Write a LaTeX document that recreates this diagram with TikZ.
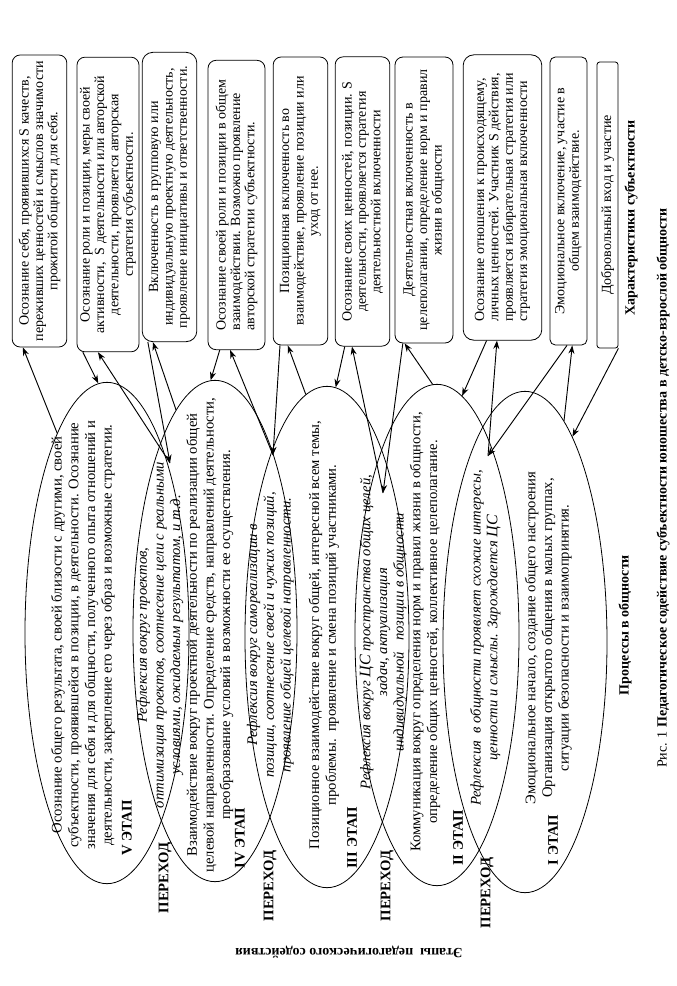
\documentclass[tikz,border=0pt]{standalone}
\usepackage{fontspec}
\setmainfont{Liberation Serif}
\usepackage{tikz}
\usetikzlibrary{arrows.meta,shapes.geometric,calc}

\begin{document}
\begin{tikzpicture}[x=0.75pt, y=-0.75pt,
  stage/.style={draw, line width=0.6pt, ellipse, minimum width=123pt, minimum height=376pt, inner sep=0pt},
  charbox/.style={draw, line width=0.6pt, rounded corners=6pt, rotate=90, align=center, inner sep=1pt,
    minimum width=217pt, font=\fontsize{10.5}{10.8}\selectfont},
  proc/.style={rotate=90, align=center, inner sep=0pt, font=\fontsize{11}{12.5}\selectfont},
  stagelbl/.style={rotate=90, inner sep=0pt, font=\fontsize{11}{12}\selectfont\bfseries},
  link/.style={-{Stealth[length=2.2mm,width=1.6mm]}, line width=0.7pt}]
  \useasboundingbox (0,0) rectangle (676,986);

  \node[stage] (e5) at (107,633) {};
  \node[stage] (e4) at (215,631) {};
  \node[stage] (e3) at (327,637) {};
  \node[stage] (e2) at (437,635) {};
  \node[stage] (e1) at (525,642) {};

  \node[proc] (t5) at (83,635) {Осознание общего результата, своей близости с другими, своей\\
    субъектности, проявившейся в позиции, в деятельности. Осознание\\
    значения для себя и для общности, полученного опыта отношений и\\
    деятельности, закрепление его через образ и возможные стратегии.};
  \node[proc] (t4) at (185,635) {\textit{Рефлексия вокруг проектов,}\\
    \textit{оптимизация проектов, соотнесение цели с реальными}\\
    \textit{условиями, ожидаемым результатом, и т.д.}\\
    Взаимодействие вокруг проектной деятельности по реализации общей\\
    целевой направленности. Определение средств, направлений деятельности,\\
    преобразование условий в возможности ее осуществления.};
  \node[proc] (t3) at (293,635) {\textit{Рефлексия вокруг самореализации в}\\
    \textit{позиции, соотнесение своей и чужих позиций,}\\
    \textit{проявление общей целевой направленности.}\\[9pt]
    Позиционное взаимодействие вокруг общей, интересной всем темы,\\
    проблемы.\ \ проявление и смена позиций участниками.};
  \node[proc] (t2) at (400,632) {\textit{Рефлексия вокруг {\large ЦС} пространства общих целей,}\\
    \textit{задач, актуализация}\\
    \textit{индивидуальной\ \ \ позиции в общности}\\
    Коммуникация вокруг определения норм и правил жизни в общности,\\
    определение общих ценностей, коллективное целеполагание.};
  \node[proc] (t1) at (521,638) {\textit{Рефлексия\ \ в общности проявляет схожие интересы,}\\
    \textit{ценности и смыслы. Зарождается {\large ЦС}}\\[16pt]
    Эмоциональное начало, создание общего настроения\\
    Организация открытого общения в малых группах,\\
    ситуации безопасности и взаимопринятия.};

  \node[stagelbl] (s5) at (127,828) {V ЭТАП};
  \node[stagelbl] (s4) at (240,838) {IV ЭТАП};
  \node[stagelbl] (s3) at (352,838) {III ЭТАП};
  \node[stagelbl] (s2) at (458,838) {II ЭТАП};
  \node[stagelbl] (s1) at (553,840) {I ЭТАП};
  \node[stagelbl] (p4) at (165,878) {ПЕРЕХОД};
  \node[stagelbl] (p3) at (270,886) {ПЕРЕХОД};
  \node[stagelbl] (p2) at (387,886) {ПЕРЕХОД};
  \node[stagelbl] (p1) at (487,893) {ПЕРЕХОД};

  \node[charbox, minimum height=41pt, minimum width=219pt] (b1) at (39.5,201) {Осознание себя, проявившихся S качеств,\\
    переживших ценностей и смыслов значимости\\ прожитой общности для себя.};
  \node[charbox, minimum height=46.5pt, minimum width=221pt] (b2) at (108,204.5) {Осознание роли и позиции, меры своей\\
    активности,\ \ S деятельности или авторской\\ деятельности, проявляется авторская\\ стратегия субъектности.};
  \node[charbox, minimum height=41pt, rounded corners=8pt] (b3) at (169.5,197) {Включенность в групповую или\\
    индивидуальную проектную деятельность,\\ проявление инициативы и ответственности.};
  \node[charbox, minimum height=42.75pt, align=left] (b4) at (236.5,205) {Осознание своей роли и позиции в общем\\
    взаимодействии. Возможно проявление\\ авторской стратегии субъектности.};
  \node[charbox, minimum height=41pt, minimum width=216pt] (b5) at (300.5,201) {Позиционная включенность во\\
    взаимодействие, проявление позиции или\\ уход от нее.};
  \node[charbox, minimum height=41pt] (b6) at (362.5,201.5) {Осознание своих ценностей, позиции. S\\
    деятельности, проявляется стратегия\\ деятельностной включенности};
  \node[charbox, minimum height=43.5pt, minimum width=214.5pt] (b7) at (424,200) {Деятельностная включенность в\\
    целеполагании, определение норм и правил\\ жизни в общности};
  \node[charbox, minimum height=59pt, minimum width=214pt, align=left, rounded corners=8pt] (b8) at (502.5,197.5) {Осознание отношения к происходящему,\\
    личных ценностей. Участник S действия,\\ проявляется избирательная стратегия или\\ стратегия эмоциональная включенности};
  \node[charbox, minimum height=27.75pt, minimum width=216pt, rounded corners=4pt] (b9) at (568.5,201) {Эмоциональное включение, участие в\\
    общем взаимодействие.};
  \node[charbox, minimum height=15.75pt, minimum width=214.5pt, rounded corners=2pt] (b10) at (607.5,205) {Добровольный вход и участие};

  \node[rotate=90, font=\fontsize{10.5}{12}\selectfont\bfseries] (hdr) at (631,218) {Характеристики субъектности};
  \node[rotate=90, font=\fontsize{10.5}{12}\selectfont\bfseries] (proc) at (625,625) {Процессы в общности};
  \node[rotate=90, font=\fontsize{10.5}{12}\selectfont] (cap) at (663,488) {Рис. 1 \textbf{Педагогическое содействие субъектности юношества в детско-взрослой общности}};
  \node[rotate=180, font=\fontsize{10.5}{12}\selectfont\bfseries] (steps) at (349,952) {Этапы\ \ педагогического содействия};

  \coordinate (r1) at (488,456);
  \coordinate (r2) at (383,493);
  \coordinate (r3) at (273,455);
  \coordinate (r4) at (170,463);

  \draw[link] (b10.south west) -- (e1.77);
  \draw[link] (e1.80) -- ($(b9.north west)!0.6!(b9.south west)$);
  \draw[link] ($(b9.north west)!0.46!(b9.south west)$) -- (r1);
  \draw[link] (r1) -- ($(b8.north west)!0.43!(b8.south west)$);
  \draw[link] ($(b8.north west)!0.3!(b8.south west)$) -- (e2.84);
  \draw[link] (e2.91) -- ($(b7.north west)!0.17!(b7.south west)$);
  \draw[link] ($(b7.north west)!0.14!(b7.south west)$) -- (r2);
  \draw[link] (r2) -- ($(b6.north west)!0.31!(b6.south west)$);
  \draw[link] ($(b6.north west)!0.18!(b6.south west)$) -- (e3.88);
  \draw[link] (e3.95) -- ($(b5.north west)!0.27!(b5.south west)$);
  \draw[link] ($(b5.north west)!0.13!(b5.south west)$) -- (r3);
  \draw[link] (r3) -- ($(b4.north west)!0.39!(b4.south west)$);
  \draw[link] ($(b4.north west)!0.21!(b4.south west)$) -- (e4.91);
  \draw[link] (e4.100) -- ($(b3.north west)!0.2!(b3.south west)$);
  \draw[link] ($(b3.north west)!0.11!(b3.south west)$) -- (r4);
  \draw[link] (r4) -- ($(b2.north west)!0.34!(b2.south west)$);
  \draw[link] ($(b2.north west)!0.1!(b2.south west)$) -- (e5.92);
  \draw[link] (e5.104) -- ($(b1.north west)!0.2!(b1.south west)$);
\end{tikzpicture}
\end{document}
